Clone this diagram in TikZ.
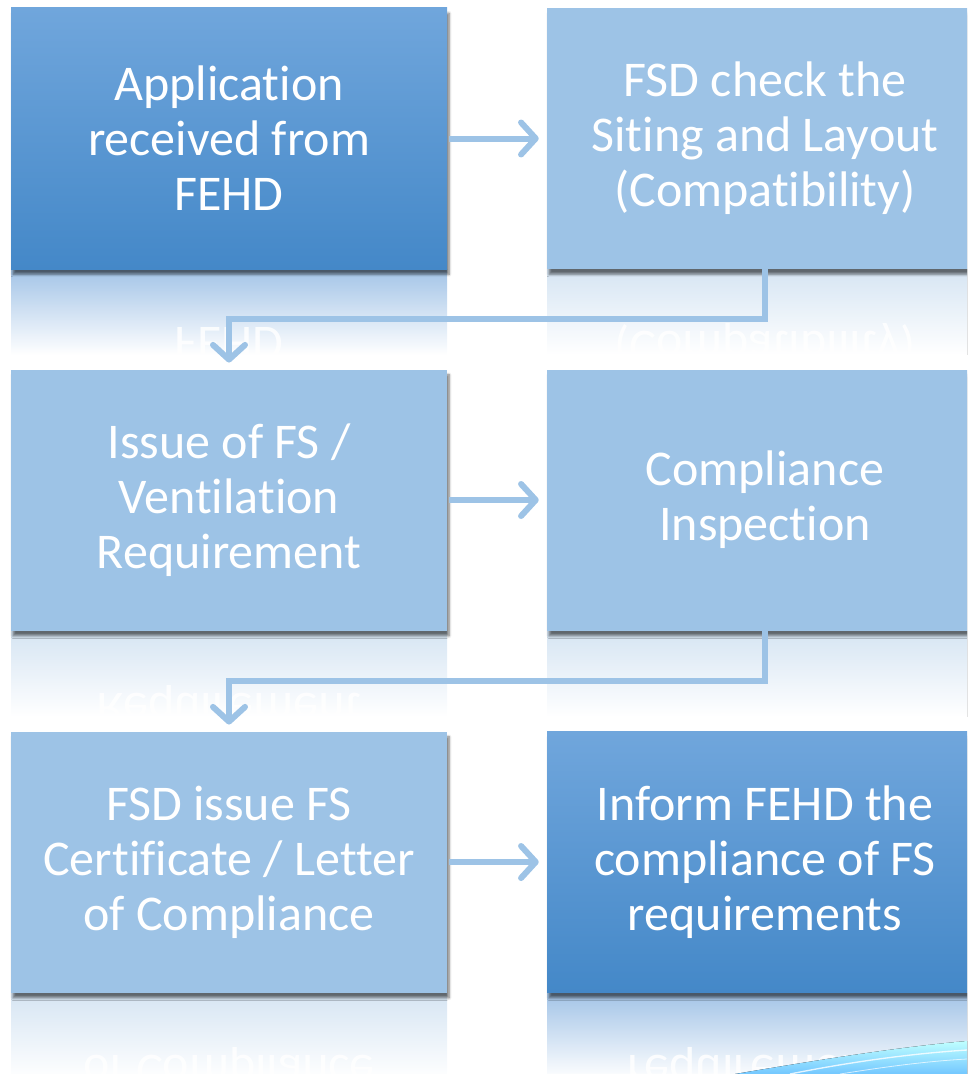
\documentclass[tikz,border=0pt]{standalone}
\usepackage{fontspec}
\setmainfont[Ligatures=NoCommon]{Carlito}
\usetikzlibrary{arrows.meta,shadows.blur,calc}
\definecolor{darktop}{HTML}{70A6DC}
\definecolor{darkbot}{HTML}{4488C8}
\definecolor{lightbox}{HTML}{9DC3E6}
\definecolor{arrowcol}{HTML}{9DC3E6}
\definecolor{refldark}{HTML}{A3C4E7}
\definecolor{refllight}{HTML}{D6E5F3}
\newcommand\nl{\kern0pt}
\newcommand\reflbox[5]{% cx, bottom, cy, text, colour
  \begin{scope}
    \clip (#1-218,#2) rectangle (#1+218,#2+86);
    \fill[top color=#5, bottom color=white] (#1-218,#2) rectangle (#1+218,#2+86);
    \node[boxtext, yscale=-1, transform shape, opacity=0.85] at (#1,2*#2-#3) {#4};
  \end{scope}}
\begin{document}
\begin{tikzpicture}[x=0.75pt,y=-0.75pt,
  boxtext/.style={text=white, font=\fontsize{37.5}{41.25}\selectfont, align=center, inner sep=0pt},
  boxbase/.style={minimum width=327pt, minimum height=195.75pt, inner sep=0pt,
    blur shadow={shadow xshift=1.5pt, shadow yshift=-4pt, shadow blur steps=6, shadow opacity=55}},
  darkbox/.style={boxbase, top color=darktop, bottom color=darkbot},
  lightbox/.style={boxbase, fill=lightbox},
  flowarrow/.style={draw=arrowcol, line width=4.5pt,
    -{Straight Barb[length=11pt,width=24pt,line cap=round,line join=round]}}
]
\useasboundingbox (0,0) rectangle (967,1074);
\begin{scope}
\clip (0,0) rectangle (967,1074);
% reflections
\reflbox{229}{269}{138.5}{Application\\received from\\FEHD}{refldark}
\reflbox{765}{269}{138.5}{FSD check the\\Sit\nl ing and Layout\\(Compat\nl ibility)}{refllight}
\reflbox{229}{631}{500}{Issue of FS /\\Vent\nl ilation\\Requirement}{refllight}
\reflbox{765}{631}{500}{Compliance\\Inspection}{refllight}
\reflbox{229}{993}{862}{FSD issue FS\\Certificate / Letter\\of Compliance}{refllight}
\reflbox{765}{993}{862}{Inform FEHD the\\compliance of FS\\requirements}{refldark}
% swoosh
\fill[top color=cyan!25!white, bottom color=cyan!60!blue!55] (735,1074) .. controls (830,1058) and (900,1047) .. (967,1041) -- (967,1074) -- cycle;
\draw[white, line width=1pt, opacity=0.8] (790,1074) .. controls (860,1060) and (920,1053) .. (967,1050);
\draw[white, line width=0.6pt, opacity=0.7] (840,1074) .. controls (890,1066) and (930,1061) .. (967,1059);
% boxes
\node[darkbox] (app) at (229,138.5) {};
\node[lightbox] (fsdcheck) at (765,138.5) {};
\node[lightbox] (issue) at (229,500) {};
\node[lightbox] (inspect) at (765,500) {};
\node[lightbox] (cert) at (229,862) {};
\node[darkbox] (inform) at (765,862) {};
\node[boxtext] at (app) {Application\\received from\\FEHD};
\node[boxtext] at (fsdcheck) {FSD check the\\Sit\nl ing and Layout\\(Compat\nl ibility)};
\node[boxtext] at (issue) {Issue of FS /\\Vent\nl ilation\\Requirement};
\node[boxtext] at (inspect) {Compliance\\Inspection};
\node[boxtext] at (cert) {FSD issue FS\\Certificate / Letter\\of Compliance};
\node[boxtext] at (inform) {Inform FEHD the\\compliance of FS\\requirements};
% connectors
\draw[flowarrow, shorten <=1.5pt, shorten >=6pt] (app) -- (fsdcheck);
\draw[flowarrow, shorten <=1.5pt, shorten >=6pt] (issue) -- (inspect);
\draw[flowarrow, shorten <=1.5pt, shorten >=6pt] (cert) -- (inform);
\coordinate (m1) at ($(app.south)!0.5!(issue.north)$);
\coordinate (m2) at ($(issue.south)!0.5!(cert.north)$);
\draw[flowarrow, shorten >=5pt] (fsdcheck.south) -- (fsdcheck.south |- m1) -- (m1) -- (issue.north);
\draw[flowarrow, shorten >=5pt] (inspect.south) -- (inspect.south |- m2) -- (m2) -- (cert.north);
\end{scope}
\end{tikzpicture}
\end{document}
